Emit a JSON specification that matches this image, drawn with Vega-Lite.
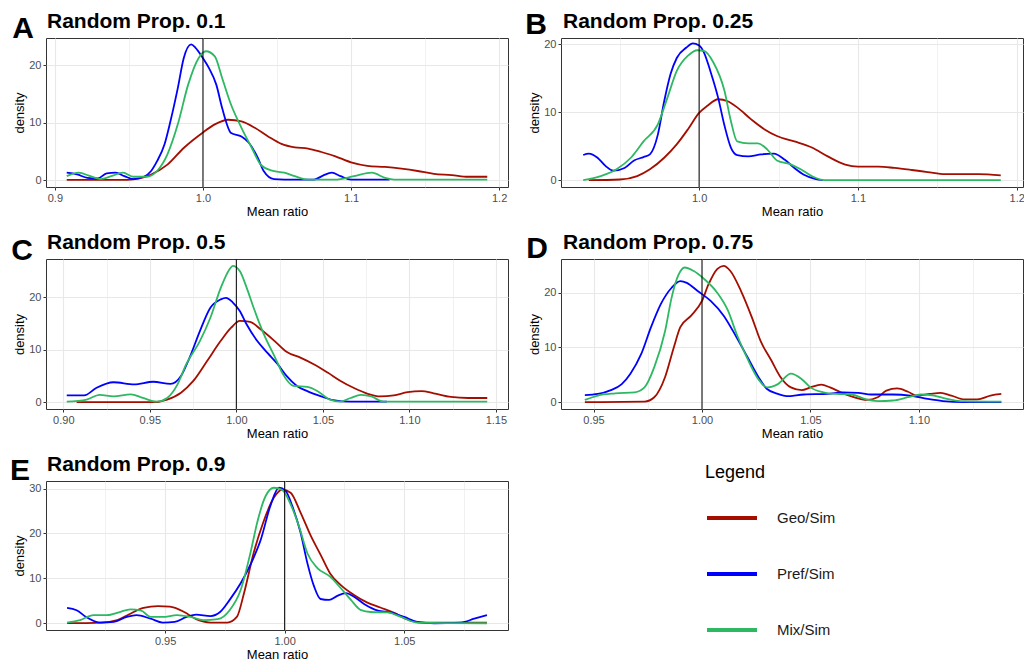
{
  "$schema": "https://vega.github.io/schema/vega-lite/v6.json",
  "padding": {"left": 9, "top": 9, "right": 0, "bottom": 0},
  "background": "white",
  "config": {
    "font": "Liberation Sans",
    "view": {"stroke": "#333333", "strokeWidth": 1},
    "axis": {
      "domain": false,
      "labelColor": "#4d4d4d",
      "labelFontSize": 11,
      "labelPadding": 2,
      "labelFlush": false,
      "labelOverlap": false,
      "titleFontSize": 13,
      "titleFontWeight": "normal",
      "titleColor": "#000000",
      "titlePadding": 2,
      "tickColor": "#333333",
      "tickSize": 3,
      "gridColor": "#e8e8e8"
    },
    "legend": {
      "titleFontSize": 18,
      "titleFontWeight": "normal",
      "titleColor": "#000000",
      "labelFontSize": 15,
      "labelColor": "#1a1a1a",
      "symbolType": "stroke",
      "symbolSize": 2500,
      "symbolStrokeWidth": 4,
      "labelOffset": 18,
      "rowPadding": 21,
      "titlePadding": 9
    }
  },
  "datasets": {
    "panels": [
      {"p": "A", "letter": "A", "title": "Random Prop. 0.1"},
      {"p": "B", "letter": "B", "title": "Random Prop. 0.25"},
      {"p": "C", "letter": "C", "title": "Random Prop. 0.5"},
      {"p": "D", "letter": "D", "title": "Random Prop. 0.75"},
      {"p": "E", "letter": "E", "title": "Random Prop. 0.9"}
    ],
    "curves": [
      {"p": "A", "s": "Geo/Sim", "x": 0.908, "y": 0.05},
      {"p": "A", "s": "Geo/Sim", "x": 0.949, "y": 0.05},
      {"p": "A", "s": "Geo/Sim", "x": 0.957, "y": 0.3},
      {"p": "A", "s": "Geo/Sim", "x": 0.965, "y": 1.0},
      {"p": "A", "s": "Geo/Sim", "x": 0.976, "y": 2.7},
      {"p": "A", "s": "Geo/Sim", "x": 0.987, "y": 5.6},
      {"p": "A", "s": "Geo/Sim", "x": 1.0, "y": 8.3},
      {"p": "A", "s": "Geo/Sim", "x": 1.008, "y": 9.7},
      {"p": "A", "s": "Geo/Sim", "x": 1.017, "y": 10.5},
      {"p": "A", "s": "Geo/Sim", "x": 1.026, "y": 10.2},
      {"p": "A", "s": "Geo/Sim", "x": 1.035, "y": 9.1},
      {"p": "A", "s": "Geo/Sim", "x": 1.044, "y": 7.6},
      {"p": "A", "s": "Geo/Sim", "x": 1.053, "y": 6.3},
      {"p": "A", "s": "Geo/Sim", "x": 1.062, "y": 5.7},
      {"p": "A", "s": "Geo/Sim", "x": 1.071, "y": 5.5},
      {"p": "A", "s": "Geo/Sim", "x": 1.08, "y": 4.9},
      {"p": "A", "s": "Geo/Sim", "x": 1.089, "y": 4.2},
      {"p": "A", "s": "Geo/Sim", "x": 1.1, "y": 3.1},
      {"p": "A", "s": "Geo/Sim", "x": 1.111, "y": 2.5},
      {"p": "A", "s": "Geo/Sim", "x": 1.123, "y": 2.3},
      {"p": "A", "s": "Geo/Sim", "x": 1.134, "y": 2.0},
      {"p": "A", "s": "Geo/Sim", "x": 1.145, "y": 1.6},
      {"p": "A", "s": "Geo/Sim", "x": 1.156, "y": 1.1},
      {"p": "A", "s": "Geo/Sim", "x": 1.168, "y": 0.9},
      {"p": "A", "s": "Geo/Sim", "x": 1.179, "y": 0.6},
      {"p": "A", "s": "Geo/Sim", "x": 1.192, "y": 0.6},

      {"p": "A", "s": "Pref/Sim", "x": 0.908, "y": 1.3},
      {"p": "A", "s": "Pref/Sim", "x": 0.915, "y": 1.0},
      {"p": "A", "s": "Pref/Sim", "x": 0.922, "y": 0.4},
      {"p": "A", "s": "Pref/Sim", "x": 0.929, "y": 0.3},
      {"p": "A", "s": "Pref/Sim", "x": 0.935, "y": 1.2},
      {"p": "A", "s": "Pref/Sim", "x": 0.941, "y": 1.3},
      {"p": "A", "s": "Pref/Sim", "x": 0.947, "y": 0.7},
      {"p": "A", "s": "Pref/Sim", "x": 0.953, "y": 0.2},
      {"p": "A", "s": "Pref/Sim", "x": 0.96, "y": 0.6},
      {"p": "A", "s": "Pref/Sim", "x": 0.965, "y": 1.6},
      {"p": "A", "s": "Pref/Sim", "x": 0.969, "y": 3.3},
      {"p": "A", "s": "Pref/Sim", "x": 0.974, "y": 6.2},
      {"p": "A", "s": "Pref/Sim", "x": 0.978, "y": 10.2},
      {"p": "A", "s": "Pref/Sim", "x": 0.983, "y": 16.0},
      {"p": "A", "s": "Pref/Sim", "x": 0.987, "y": 21.2},
      {"p": "A", "s": "Pref/Sim", "x": 0.992, "y": 23.6},
      {"p": "A", "s": "Pref/Sim", "x": 0.995, "y": 23.0},
      {"p": "A", "s": "Pref/Sim", "x": 1.0, "y": 21.2},
      {"p": "A", "s": "Pref/Sim", "x": 1.004, "y": 19.5},
      {"p": "A", "s": "Pref/Sim", "x": 1.009, "y": 16.6},
      {"p": "A", "s": "Pref/Sim", "x": 1.013, "y": 12.5},
      {"p": "A", "s": "Pref/Sim", "x": 1.019, "y": 8.2},
      {"p": "A", "s": "Pref/Sim", "x": 1.026, "y": 7.6},
      {"p": "A", "s": "Pref/Sim", "x": 1.031, "y": 6.5},
      {"p": "A", "s": "Pref/Sim", "x": 1.037, "y": 3.9},
      {"p": "A", "s": "Pref/Sim", "x": 1.041, "y": 1.6},
      {"p": "A", "s": "Pref/Sim", "x": 1.048, "y": 0.2},
      {"p": "A", "s": "Pref/Sim", "x": 1.062, "y": 0.1},
      {"p": "A", "s": "Pref/Sim", "x": 1.075, "y": 0.1},
      {"p": "A", "s": "Pref/Sim", "x": 1.081, "y": 0.8},
      {"p": "A", "s": "Pref/Sim", "x": 1.087, "y": 1.3},
      {"p": "A", "s": "Pref/Sim", "x": 1.093, "y": 0.7},
      {"p": "A", "s": "Pref/Sim", "x": 1.1, "y": 0.1},
      {"p": "A", "s": "Pref/Sim", "x": 1.126, "y": 0.1},

      {"p": "A", "s": "Mix/Sim", "x": 0.908, "y": 0.7},
      {"p": "A", "s": "Mix/Sim", "x": 0.916, "y": 1.3},
      {"p": "A", "s": "Mix/Sim", "x": 0.924, "y": 0.7},
      {"p": "A", "s": "Mix/Sim", "x": 0.931, "y": 0.2},
      {"p": "A", "s": "Mix/Sim", "x": 0.938, "y": 0.7},
      {"p": "A", "s": "Mix/Sim", "x": 0.946, "y": 1.3},
      {"p": "A", "s": "Mix/Sim", "x": 0.953, "y": 0.6},
      {"p": "A", "s": "Mix/Sim", "x": 0.962, "y": 0.6},
      {"p": "A", "s": "Mix/Sim", "x": 0.969, "y": 1.6},
      {"p": "A", "s": "Mix/Sim", "x": 0.976, "y": 4.5},
      {"p": "A", "s": "Mix/Sim", "x": 0.983, "y": 9.7},
      {"p": "A", "s": "Mix/Sim", "x": 0.99, "y": 16.6},
      {"p": "A", "s": "Mix/Sim", "x": 0.997, "y": 21.2},
      {"p": "A", "s": "Mix/Sim", "x": 1.002, "y": 22.4},
      {"p": "A", "s": "Mix/Sim", "x": 1.008, "y": 21.5},
      {"p": "A", "s": "Mix/Sim", "x": 1.013, "y": 17.7},
      {"p": "A", "s": "Mix/Sim", "x": 1.019, "y": 13.1},
      {"p": "A", "s": "Mix/Sim", "x": 1.026, "y": 9.1},
      {"p": "A", "s": "Mix/Sim", "x": 1.033, "y": 5.6},
      {"p": "A", "s": "Mix/Sim", "x": 1.039, "y": 2.7},
      {"p": "A", "s": "Mix/Sim", "x": 1.046, "y": 1.7},
      {"p": "A", "s": "Mix/Sim", "x": 1.055, "y": 1.3},
      {"p": "A", "s": "Mix/Sim", "x": 1.062, "y": 0.7},
      {"p": "A", "s": "Mix/Sim", "x": 1.071, "y": 0.1},
      {"p": "A", "s": "Mix/Sim", "x": 1.089, "y": 0.1},
      {"p": "A", "s": "Mix/Sim", "x": 1.102, "y": 0.7},
      {"p": "A", "s": "Mix/Sim", "x": 1.114, "y": 1.3},
      {"p": "A", "s": "Mix/Sim", "x": 1.123, "y": 0.4},
      {"p": "A", "s": "Mix/Sim", "x": 1.129, "y": 0.1},
      {"p": "A", "s": "Mix/Sim", "x": 1.192, "y": 0.1},

      {"p": "B", "s": "Geo/Sim", "x": 0.9305, "y": 0.0},
      {"p": "B", "s": "Geo/Sim", "x": 0.95, "y": 0.1},
      {"p": "B", "s": "Geo/Sim", "x": 0.961, "y": 0.6},
      {"p": "B", "s": "Geo/Sim", "x": 0.969, "y": 1.6},
      {"p": "B", "s": "Geo/Sim", "x": 0.978, "y": 3.3},
      {"p": "B", "s": "Geo/Sim", "x": 0.986, "y": 5.3},
      {"p": "B", "s": "Geo/Sim", "x": 0.993, "y": 7.5},
      {"p": "B", "s": "Geo/Sim", "x": 1.0, "y": 9.9},
      {"p": "B", "s": "Geo/Sim", "x": 1.005, "y": 10.9},
      {"p": "B", "s": "Geo/Sim", "x": 1.012, "y": 11.9},
      {"p": "B", "s": "Geo/Sim", "x": 1.018, "y": 11.6},
      {"p": "B", "s": "Geo/Sim", "x": 1.024, "y": 10.7},
      {"p": "B", "s": "Geo/Sim", "x": 1.033, "y": 8.9},
      {"p": "B", "s": "Geo/Sim", "x": 1.041, "y": 7.5},
      {"p": "B", "s": "Geo/Sim", "x": 1.049, "y": 6.5},
      {"p": "B", "s": "Geo/Sim", "x": 1.06, "y": 5.7},
      {"p": "B", "s": "Geo/Sim", "x": 1.071, "y": 4.8},
      {"p": "B", "s": "Geo/Sim", "x": 1.081, "y": 3.5},
      {"p": "B", "s": "Geo/Sim", "x": 1.092, "y": 2.3},
      {"p": "B", "s": "Geo/Sim", "x": 1.1, "y": 2.0},
      {"p": "B", "s": "Geo/Sim", "x": 1.113, "y": 2.0},
      {"p": "B", "s": "Geo/Sim", "x": 1.123, "y": 1.8},
      {"p": "B", "s": "Geo/Sim", "x": 1.134, "y": 1.5},
      {"p": "B", "s": "Geo/Sim", "x": 1.144, "y": 1.2},
      {"p": "B", "s": "Geo/Sim", "x": 1.155, "y": 0.9},
      {"p": "B", "s": "Geo/Sim", "x": 1.176, "y": 0.9},
      {"p": "B", "s": "Geo/Sim", "x": 1.19, "y": 0.7},

      {"p": "B", "s": "Pref/Sim", "x": 0.927, "y": 3.7},
      {"p": "B", "s": "Pref/Sim", "x": 0.9305, "y": 3.9},
      {"p": "B", "s": "Pref/Sim", "x": 0.936, "y": 3.3},
      {"p": "B", "s": "Pref/Sim", "x": 0.941, "y": 2.1},
      {"p": "B", "s": "Pref/Sim", "x": 0.946, "y": 1.4},
      {"p": "B", "s": "Pref/Sim", "x": 0.953, "y": 1.8},
      {"p": "B", "s": "Pref/Sim", "x": 0.959, "y": 2.9},
      {"p": "B", "s": "Pref/Sim", "x": 0.965, "y": 3.4},
      {"p": "B", "s": "Pref/Sim", "x": 0.969, "y": 3.8},
      {"p": "B", "s": "Pref/Sim", "x": 0.974, "y": 6.7},
      {"p": "B", "s": "Pref/Sim", "x": 0.978, "y": 11.6},
      {"p": "B", "s": "Pref/Sim", "x": 0.982, "y": 15.6},
      {"p": "B", "s": "Pref/Sim", "x": 0.986, "y": 18.0},
      {"p": "B", "s": "Pref/Sim", "x": 0.992, "y": 19.5},
      {"p": "B", "s": "Pref/Sim", "x": 0.996, "y": 20.1},
      {"p": "B", "s": "Pref/Sim", "x": 1.0, "y": 19.8},
      {"p": "B", "s": "Pref/Sim", "x": 1.003, "y": 18.8},
      {"p": "B", "s": "Pref/Sim", "x": 1.007, "y": 16.1},
      {"p": "B", "s": "Pref/Sim", "x": 1.012, "y": 12.1},
      {"p": "B", "s": "Pref/Sim", "x": 1.016, "y": 8.0},
      {"p": "B", "s": "Pref/Sim", "x": 1.02, "y": 4.8},
      {"p": "B", "s": "Pref/Sim", "x": 1.024, "y": 3.7},
      {"p": "B", "s": "Pref/Sim", "x": 1.031, "y": 3.5},
      {"p": "B", "s": "Pref/Sim", "x": 1.039, "y": 3.8},
      {"p": "B", "s": "Pref/Sim", "x": 1.047, "y": 3.9},
      {"p": "B", "s": "Pref/Sim", "x": 1.054, "y": 3.0},
      {"p": "B", "s": "Pref/Sim", "x": 1.06, "y": 1.8},
      {"p": "B", "s": "Pref/Sim", "x": 1.066, "y": 0.8},
      {"p": "B", "s": "Pref/Sim", "x": 1.073, "y": 0.2},
      {"p": "B", "s": "Pref/Sim", "x": 1.078, "y": 0.0},

      {"p": "B", "s": "Mix/Sim", "x": 0.927, "y": 0.0},
      {"p": "B", "s": "Mix/Sim", "x": 0.938, "y": 0.6},
      {"p": "B", "s": "Mix/Sim", "x": 0.948, "y": 1.6},
      {"p": "B", "s": "Mix/Sim", "x": 0.957, "y": 3.3},
      {"p": "B", "s": "Mix/Sim", "x": 0.965, "y": 5.7},
      {"p": "B", "s": "Mix/Sim", "x": 0.974, "y": 8.2},
      {"p": "B", "s": "Mix/Sim", "x": 0.98, "y": 12.1},
      {"p": "B", "s": "Mix/Sim", "x": 0.986, "y": 16.1},
      {"p": "B", "s": "Mix/Sim", "x": 0.993, "y": 18.3},
      {"p": "B", "s": "Mix/Sim", "x": 0.999, "y": 19.1},
      {"p": "B", "s": "Mix/Sim", "x": 1.003, "y": 19.0},
      {"p": "B", "s": "Mix/Sim", "x": 1.009, "y": 17.3},
      {"p": "B", "s": "Mix/Sim", "x": 1.016, "y": 13.1},
      {"p": "B", "s": "Mix/Sim", "x": 1.02, "y": 8.7},
      {"p": "B", "s": "Mix/Sim", "x": 1.024, "y": 5.7},
      {"p": "B", "s": "Mix/Sim", "x": 1.031, "y": 5.4},
      {"p": "B", "s": "Mix/Sim", "x": 1.037, "y": 5.4},
      {"p": "B", "s": "Mix/Sim", "x": 1.043, "y": 4.5},
      {"p": "B", "s": "Mix/Sim", "x": 1.049, "y": 2.9},
      {"p": "B", "s": "Mix/Sim", "x": 1.058, "y": 2.3},
      {"p": "B", "s": "Mix/Sim", "x": 1.064, "y": 1.6},
      {"p": "B", "s": "Mix/Sim", "x": 1.071, "y": 0.6},
      {"p": "B", "s": "Mix/Sim", "x": 1.079, "y": 0.0},
      {"p": "B", "s": "Mix/Sim", "x": 1.19, "y": 0.0},

      {"p": "C", "s": "Geo/Sim", "x": 0.9077, "y": 0.0},
      {"p": "C", "s": "Geo/Sim", "x": 0.952, "y": 0.0},
      {"p": "C", "s": "Geo/Sim", "x": 0.96, "y": 0.5},
      {"p": "C", "s": "Geo/Sim", "x": 0.968, "y": 1.8},
      {"p": "C", "s": "Geo/Sim", "x": 0.975, "y": 4.0},
      {"p": "C", "s": "Geo/Sim", "x": 0.983, "y": 7.8},
      {"p": "C", "s": "Geo/Sim", "x": 0.991, "y": 11.7},
      {"p": "C", "s": "Geo/Sim", "x": 0.997, "y": 14.2},
      {"p": "C", "s": "Geo/Sim", "x": 1.002, "y": 15.5},
      {"p": "C", "s": "Geo/Sim", "x": 1.008, "y": 15.3},
      {"p": "C", "s": "Geo/Sim", "x": 1.014, "y": 13.9},
      {"p": "C", "s": "Geo/Sim", "x": 1.022, "y": 11.7},
      {"p": "C", "s": "Geo/Sim", "x": 1.029, "y": 9.6},
      {"p": "C", "s": "Geo/Sim", "x": 1.037, "y": 8.5},
      {"p": "C", "s": "Geo/Sim", "x": 1.045, "y": 7.2},
      {"p": "C", "s": "Geo/Sim", "x": 1.053, "y": 5.6},
      {"p": "C", "s": "Geo/Sim", "x": 1.06, "y": 4.1},
      {"p": "C", "s": "Geo/Sim", "x": 1.068, "y": 2.7},
      {"p": "C", "s": "Geo/Sim", "x": 1.076, "y": 1.6},
      {"p": "C", "s": "Geo/Sim", "x": 1.083, "y": 1.1},
      {"p": "C", "s": "Geo/Sim", "x": 1.091, "y": 1.3},
      {"p": "C", "s": "Geo/Sim", "x": 1.099, "y": 1.9},
      {"p": "C", "s": "Geo/Sim", "x": 1.107, "y": 2.1},
      {"p": "C", "s": "Geo/Sim", "x": 1.114, "y": 1.7},
      {"p": "C", "s": "Geo/Sim", "x": 1.124, "y": 1.0},
      {"p": "C", "s": "Geo/Sim", "x": 1.134, "y": 0.8},
      {"p": "C", "s": "Geo/Sim", "x": 1.145, "y": 0.8},

      {"p": "C", "s": "Pref/Sim", "x": 0.902, "y": 1.3},
      {"p": "C", "s": "Pref/Sim", "x": 0.912, "y": 1.3},
      {"p": "C", "s": "Pref/Sim", "x": 0.919, "y": 2.7},
      {"p": "C", "s": "Pref/Sim", "x": 0.929, "y": 3.8},
      {"p": "C", "s": "Pref/Sim", "x": 0.941, "y": 3.4},
      {"p": "C", "s": "Pref/Sim", "x": 0.952, "y": 3.9},
      {"p": "C", "s": "Pref/Sim", "x": 0.962, "y": 3.5},
      {"p": "C", "s": "Pref/Sim", "x": 0.968, "y": 5.0},
      {"p": "C", "s": "Pref/Sim", "x": 0.973, "y": 8.5},
      {"p": "C", "s": "Pref/Sim", "x": 0.979, "y": 13.6},
      {"p": "C", "s": "Pref/Sim", "x": 0.985, "y": 18.0},
      {"p": "C", "s": "Pref/Sim", "x": 0.991, "y": 19.6},
      {"p": "C", "s": "Pref/Sim", "x": 0.994, "y": 19.9},
      {"p": "C", "s": "Pref/Sim", "x": 0.998, "y": 19.0},
      {"p": "C", "s": "Pref/Sim", "x": 1.002, "y": 17.4},
      {"p": "C", "s": "Pref/Sim", "x": 1.006, "y": 14.8},
      {"p": "C", "s": "Pref/Sim", "x": 1.012, "y": 11.7},
      {"p": "C", "s": "Pref/Sim", "x": 1.018, "y": 9.4},
      {"p": "C", "s": "Pref/Sim", "x": 1.024, "y": 7.2},
      {"p": "C", "s": "Pref/Sim", "x": 1.029, "y": 5.0},
      {"p": "C", "s": "Pref/Sim", "x": 1.035, "y": 3.1},
      {"p": "C", "s": "Pref/Sim", "x": 1.041, "y": 2.1},
      {"p": "C", "s": "Pref/Sim", "x": 1.049, "y": 1.1},
      {"p": "C", "s": "Pref/Sim", "x": 1.056, "y": 0.4},
      {"p": "C", "s": "Pref/Sim", "x": 1.066, "y": 0.1},
      {"p": "C", "s": "Pref/Sim", "x": 1.087, "y": 0.1},

      {"p": "C", "s": "Mix/Sim", "x": 0.902, "y": 0.1},
      {"p": "C", "s": "Mix/Sim", "x": 0.9135, "y": 0.5},
      {"p": "C", "s": "Mix/Sim", "x": 0.921, "y": 1.4},
      {"p": "C", "s": "Mix/Sim", "x": 0.929, "y": 1.1},
      {"p": "C", "s": "Mix/Sim", "x": 0.939, "y": 1.5},
      {"p": "C", "s": "Mix/Sim", "x": 0.946, "y": 0.8},
      {"p": "C", "s": "Mix/Sim", "x": 0.954, "y": 0.1},
      {"p": "C", "s": "Mix/Sim", "x": 0.96, "y": 0.8},
      {"p": "C", "s": "Mix/Sim", "x": 0.966, "y": 3.4},
      {"p": "C", "s": "Mix/Sim", "x": 0.971, "y": 7.2},
      {"p": "C", "s": "Mix/Sim", "x": 0.979, "y": 11.7},
      {"p": "C", "s": "Mix/Sim", "x": 0.985, "y": 16.1},
      {"p": "C", "s": "Mix/Sim", "x": 0.991, "y": 21.8},
      {"p": "C", "s": "Mix/Sim", "x": 0.996, "y": 25.3},
      {"p": "C", "s": "Mix/Sim", "x": 0.998, "y": 26.0},
      {"p": "C", "s": "Mix/Sim", "x": 1.002, "y": 25.0},
      {"p": "C", "s": "Mix/Sim", "x": 1.006, "y": 21.8},
      {"p": "C", "s": "Mix/Sim", "x": 1.01, "y": 18.0},
      {"p": "C", "s": "Mix/Sim", "x": 1.016, "y": 12.9},
      {"p": "C", "s": "Mix/Sim", "x": 1.022, "y": 8.8},
      {"p": "C", "s": "Mix/Sim", "x": 1.027, "y": 5.3},
      {"p": "C", "s": "Mix/Sim", "x": 1.033, "y": 3.1},
      {"p": "C", "s": "Mix/Sim", "x": 1.041, "y": 2.9},
      {"p": "C", "s": "Mix/Sim", "x": 1.047, "y": 2.1},
      {"p": "C", "s": "Mix/Sim", "x": 1.054, "y": 0.5},
      {"p": "C", "s": "Mix/Sim", "x": 1.06, "y": 0.1},
      {"p": "C", "s": "Mix/Sim", "x": 1.066, "y": 0.8},
      {"p": "C", "s": "Mix/Sim", "x": 1.072, "y": 1.4},
      {"p": "C", "s": "Mix/Sim", "x": 1.078, "y": 1.1},
      {"p": "C", "s": "Mix/Sim", "x": 1.085, "y": 0.1},
      {"p": "C", "s": "Mix/Sim", "x": 1.145, "y": 0.1},

      {"p": "D", "s": "Geo/Sim", "x": 0.946, "y": 0.0},
      {"p": "D", "s": "Geo/Sim", "x": 0.9735, "y": 0.1},
      {"p": "D", "s": "Geo/Sim", "x": 0.978, "y": 0.9},
      {"p": "D", "s": "Geo/Sim", "x": 0.983, "y": 4.6},
      {"p": "D", "s": "Geo/Sim", "x": 0.987, "y": 10.0},
      {"p": "D", "s": "Geo/Sim", "x": 0.99, "y": 13.7},
      {"p": "D", "s": "Geo/Sim", "x": 0.995, "y": 15.8},
      {"p": "D", "s": "Geo/Sim", "x": 1.0, "y": 18.5},
      {"p": "D", "s": "Geo/Sim", "x": 1.003, "y": 21.5},
      {"p": "D", "s": "Geo/Sim", "x": 1.007, "y": 24.3},
      {"p": "D", "s": "Geo/Sim", "x": 1.01, "y": 24.9},
      {"p": "D", "s": "Geo/Sim", "x": 1.013, "y": 24.0},
      {"p": "D", "s": "Geo/Sim", "x": 1.018, "y": 20.3},
      {"p": "D", "s": "Geo/Sim", "x": 1.023, "y": 15.5},
      {"p": "D", "s": "Geo/Sim", "x": 1.027, "y": 11.2},
      {"p": "D", "s": "Geo/Sim", "x": 1.032, "y": 7.6},
      {"p": "D", "s": "Geo/Sim", "x": 1.036, "y": 4.7},
      {"p": "D", "s": "Geo/Sim", "x": 1.041, "y": 2.7},
      {"p": "D", "s": "Geo/Sim", "x": 1.046, "y": 2.2},
      {"p": "D", "s": "Geo/Sim", "x": 1.05, "y": 2.7},
      {"p": "D", "s": "Geo/Sim", "x": 1.055, "y": 3.2},
      {"p": "D", "s": "Geo/Sim", "x": 1.059, "y": 2.7},
      {"p": "D", "s": "Geo/Sim", "x": 1.064, "y": 1.8},
      {"p": "D", "s": "Geo/Sim", "x": 1.07, "y": 0.9},
      {"p": "D", "s": "Geo/Sim", "x": 1.076, "y": 0.4},
      {"p": "D", "s": "Geo/Sim", "x": 1.081, "y": 0.9},
      {"p": "D", "s": "Geo/Sim", "x": 1.085, "y": 2.1},
      {"p": "D", "s": "Geo/Sim", "x": 1.09, "y": 2.5},
      {"p": "D", "s": "Geo/Sim", "x": 1.095, "y": 1.9},
      {"p": "D", "s": "Geo/Sim", "x": 1.099, "y": 1.2},
      {"p": "D", "s": "Geo/Sim", "x": 1.105, "y": 1.5},
      {"p": "D", "s": "Geo/Sim", "x": 1.11, "y": 1.7},
      {"p": "D", "s": "Geo/Sim", "x": 1.115, "y": 1.2},
      {"p": "D", "s": "Geo/Sim", "x": 1.121, "y": 0.5},
      {"p": "D", "s": "Geo/Sim", "x": 1.127, "y": 0.5},
      {"p": "D", "s": "Geo/Sim", "x": 1.133, "y": 1.2},
      {"p": "D", "s": "Geo/Sim", "x": 1.138, "y": 1.5},

      {"p": "D", "s": "Pref/Sim", "x": 0.946, "y": 1.3},
      {"p": "D", "s": "Pref/Sim", "x": 0.952, "y": 1.5},
      {"p": "D", "s": "Pref/Sim", "x": 0.958, "y": 2.2},
      {"p": "D", "s": "Pref/Sim", "x": 0.963, "y": 3.3},
      {"p": "D", "s": "Pref/Sim", "x": 0.967, "y": 5.2},
      {"p": "D", "s": "Pref/Sim", "x": 0.972, "y": 8.8},
      {"p": "D", "s": "Pref/Sim", "x": 0.9765, "y": 13.7},
      {"p": "D", "s": "Pref/Sim", "x": 0.981, "y": 17.9},
      {"p": "D", "s": "Pref/Sim", "x": 0.986, "y": 20.9},
      {"p": "D", "s": "Pref/Sim", "x": 0.99, "y": 22.1},
      {"p": "D", "s": "Pref/Sim", "x": 0.993, "y": 21.8},
      {"p": "D", "s": "Pref/Sim", "x": 0.998, "y": 20.3},
      {"p": "D", "s": "Pref/Sim", "x": 1.004, "y": 18.5},
      {"p": "D", "s": "Pref/Sim", "x": 1.01, "y": 15.8},
      {"p": "D", "s": "Pref/Sim", "x": 1.016, "y": 11.8},
      {"p": "D", "s": "Pref/Sim", "x": 1.021, "y": 8.2},
      {"p": "D", "s": "Pref/Sim", "x": 1.026, "y": 4.6},
      {"p": "D", "s": "Pref/Sim", "x": 1.03, "y": 2.4},
      {"p": "D", "s": "Pref/Sim", "x": 1.035, "y": 1.5},
      {"p": "D", "s": "Pref/Sim", "x": 1.039, "y": 1.1},
      {"p": "D", "s": "Pref/Sim", "x": 1.047, "y": 1.4},
      {"p": "D", "s": "Pref/Sim", "x": 1.058, "y": 1.5},
      {"p": "D", "s": "Pref/Sim", "x": 1.065, "y": 1.8},
      {"p": "D", "s": "Pref/Sim", "x": 1.072, "y": 1.7},
      {"p": "D", "s": "Pref/Sim", "x": 1.078, "y": 1.4},
      {"p": "D", "s": "Pref/Sim", "x": 1.088, "y": 1.4},
      {"p": "D", "s": "Pref/Sim", "x": 1.096, "y": 1.2},
      {"p": "D", "s": "Pref/Sim", "x": 1.104, "y": 0.6},
      {"p": "D", "s": "Pref/Sim", "x": 1.111, "y": 0.2},
      {"p": "D", "s": "Pref/Sim", "x": 1.121, "y": 0.0},
      {"p": "D", "s": "Pref/Sim", "x": 1.138, "y": 0.0},

      {"p": "D", "s": "Mix/Sim", "x": 0.946, "y": 0.4},
      {"p": "D", "s": "Mix/Sim", "x": 0.952, "y": 1.2},
      {"p": "D", "s": "Mix/Sim", "x": 0.96, "y": 1.6},
      {"p": "D", "s": "Mix/Sim", "x": 0.969, "y": 1.8},
      {"p": "D", "s": "Mix/Sim", "x": 0.9735, "y": 2.7},
      {"p": "D", "s": "Mix/Sim", "x": 0.978, "y": 6.4},
      {"p": "D", "s": "Mix/Sim", "x": 0.983, "y": 13.0},
      {"p": "D", "s": "Mix/Sim", "x": 0.986, "y": 19.1},
      {"p": "D", "s": "Mix/Sim", "x": 0.989, "y": 23.1},
      {"p": "D", "s": "Mix/Sim", "x": 0.992, "y": 24.6},
      {"p": "D", "s": "Mix/Sim", "x": 0.996, "y": 24.0},
      {"p": "D", "s": "Mix/Sim", "x": 1.001, "y": 22.5},
      {"p": "D", "s": "Mix/Sim", "x": 1.007, "y": 20.0},
      {"p": "D", "s": "Mix/Sim", "x": 1.012, "y": 16.7},
      {"p": "D", "s": "Mix/Sim", "x": 1.016, "y": 12.4},
      {"p": "D", "s": "Mix/Sim", "x": 1.021, "y": 7.9},
      {"p": "D", "s": "Mix/Sim", "x": 1.026, "y": 4.2},
      {"p": "D", "s": "Mix/Sim", "x": 1.03, "y": 2.7},
      {"p": "D", "s": "Mix/Sim", "x": 1.035, "y": 3.3},
      {"p": "D", "s": "Mix/Sim", "x": 1.041, "y": 5.2},
      {"p": "D", "s": "Mix/Sim", "x": 1.046, "y": 4.2},
      {"p": "D", "s": "Mix/Sim", "x": 1.05, "y": 2.7},
      {"p": "D", "s": "Mix/Sim", "x": 1.056, "y": 1.8},
      {"p": "D", "s": "Mix/Sim", "x": 1.062, "y": 1.5},
      {"p": "D", "s": "Mix/Sim", "x": 1.069, "y": 1.4},
      {"p": "D", "s": "Mix/Sim", "x": 1.075, "y": 0.6},
      {"p": "D", "s": "Mix/Sim", "x": 1.081, "y": 0.2},
      {"p": "D", "s": "Mix/Sim", "x": 1.088, "y": 0.3},
      {"p": "D", "s": "Mix/Sim", "x": 1.095, "y": 0.9},
      {"p": "D", "s": "Mix/Sim", "x": 1.101, "y": 1.4},
      {"p": "D", "s": "Mix/Sim", "x": 1.107, "y": 1.2},
      {"p": "D", "s": "Mix/Sim", "x": 1.113, "y": 0.6},
      {"p": "D", "s": "Mix/Sim", "x": 1.119, "y": 0.2},
      {"p": "D", "s": "Mix/Sim", "x": 1.138, "y": 0.1},

      {"p": "E", "s": "Geo/Sim", "x": 0.909, "y": 0.0},
      {"p": "E", "s": "Geo/Sim", "x": 0.923, "y": 0.15},
      {"p": "E", "s": "Geo/Sim", "x": 0.93, "y": 0.7},
      {"p": "E", "s": "Geo/Sim", "x": 0.935, "y": 2.0},
      {"p": "E", "s": "Geo/Sim", "x": 0.941, "y": 3.4},
      {"p": "E", "s": "Geo/Sim", "x": 0.947, "y": 3.8},
      {"p": "E", "s": "Geo/Sim", "x": 0.952, "y": 3.7},
      {"p": "E", "s": "Geo/Sim", "x": 0.958, "y": 2.5},
      {"p": "E", "s": "Geo/Sim", "x": 0.963, "y": 0.9},
      {"p": "E", "s": "Geo/Sim", "x": 0.969, "y": 0.15},
      {"p": "E", "s": "Geo/Sim", "x": 0.976, "y": 0.15},
      {"p": "E", "s": "Geo/Sim", "x": 0.98, "y": 1.4},
      {"p": "E", "s": "Geo/Sim", "x": 0.983, "y": 6.7},
      {"p": "E", "s": "Geo/Sim", "x": 0.987, "y": 15.6},
      {"p": "E", "s": "Geo/Sim", "x": 0.991, "y": 22.4},
      {"p": "E", "s": "Geo/Sim", "x": 0.9955, "y": 28.0},
      {"p": "E", "s": "Geo/Sim", "x": 0.999, "y": 29.8},
      {"p": "E", "s": "Geo/Sim", "x": 1.0025, "y": 29.1},
      {"p": "E", "s": "Geo/Sim", "x": 1.0067, "y": 24.6},
      {"p": "E", "s": "Geo/Sim", "x": 1.011, "y": 19.4},
      {"p": "E", "s": "Geo/Sim", "x": 1.015, "y": 15.3},
      {"p": "E", "s": "Geo/Sim", "x": 1.019, "y": 11.1},
      {"p": "E", "s": "Geo/Sim", "x": 1.0235, "y": 8.5},
      {"p": "E", "s": "Geo/Sim", "x": 1.029, "y": 6.3},
      {"p": "E", "s": "Geo/Sim", "x": 1.0346, "y": 4.6},
      {"p": "E", "s": "Geo/Sim", "x": 1.04, "y": 3.5},
      {"p": "E", "s": "Geo/Sim", "x": 1.0458, "y": 2.3},
      {"p": "E", "s": "Geo/Sim", "x": 1.051, "y": 0.9},
      {"p": "E", "s": "Geo/Sim", "x": 1.057, "y": 0.15},
      {"p": "E", "s": "Geo/Sim", "x": 1.0846, "y": 0.15},

      {"p": "E", "s": "Pref/Sim", "x": 0.909, "y": 3.4},
      {"p": "E", "s": "Pref/Sim", "x": 0.913, "y": 2.9},
      {"p": "E", "s": "Pref/Sim", "x": 0.917, "y": 1.4},
      {"p": "E", "s": "Pref/Sim", "x": 0.923, "y": 0.15},
      {"p": "E", "s": "Pref/Sim", "x": 0.9285, "y": 0.3},
      {"p": "E", "s": "Pref/Sim", "x": 0.934, "y": 1.4},
      {"p": "E", "s": "Pref/Sim", "x": 0.938, "y": 1.8},
      {"p": "E", "s": "Pref/Sim", "x": 0.944, "y": 1.0},
      {"p": "E", "s": "Pref/Sim", "x": 0.949, "y": 0.15},
      {"p": "E", "s": "Pref/Sim", "x": 0.954, "y": 0.3},
      {"p": "E", "s": "Pref/Sim", "x": 0.959, "y": 1.4},
      {"p": "E", "s": "Pref/Sim", "x": 0.963, "y": 1.9},
      {"p": "E", "s": "Pref/Sim", "x": 0.969, "y": 1.6},
      {"p": "E", "s": "Pref/Sim", "x": 0.973, "y": 2.5},
      {"p": "E", "s": "Pref/Sim", "x": 0.977, "y": 5.2},
      {"p": "E", "s": "Pref/Sim", "x": 0.9816, "y": 8.9},
      {"p": "E", "s": "Pref/Sim", "x": 0.986, "y": 13.4},
      {"p": "E", "s": "Pref/Sim", "x": 0.99, "y": 18.6},
      {"p": "E", "s": "Pref/Sim", "x": 0.994, "y": 26.1},
      {"p": "E", "s": "Pref/Sim", "x": 0.9976, "y": 30.2},
      {"p": "E", "s": "Pref/Sim", "x": 1.0004, "y": 29.5},
      {"p": "E", "s": "Pref/Sim", "x": 1.0032, "y": 26.1},
      {"p": "E", "s": "Pref/Sim", "x": 1.0067, "y": 20.1},
      {"p": "E", "s": "Pref/Sim", "x": 1.0095, "y": 13.4},
      {"p": "E", "s": "Pref/Sim", "x": 1.0123, "y": 8.2},
      {"p": "E", "s": "Pref/Sim", "x": 1.015, "y": 5.4},
      {"p": "E", "s": "Pref/Sim", "x": 1.0186, "y": 5.2},
      {"p": "E", "s": "Pref/Sim", "x": 1.022, "y": 6.1},
      {"p": "E", "s": "Pref/Sim", "x": 1.0256, "y": 6.7},
      {"p": "E", "s": "Pref/Sim", "x": 1.029, "y": 5.9},
      {"p": "E", "s": "Pref/Sim", "x": 1.0332, "y": 4.3},
      {"p": "E", "s": "Pref/Sim", "x": 1.039, "y": 2.8},
      {"p": "E", "s": "Pref/Sim", "x": 1.044, "y": 2.4},
      {"p": "E", "s": "Pref/Sim", "x": 1.05, "y": 1.4},
      {"p": "E", "s": "Pref/Sim", "x": 1.0556, "y": 0.3},
      {"p": "E", "s": "Pref/Sim", "x": 1.0626, "y": 0.0},
      {"p": "E", "s": "Pref/Sim", "x": 1.0737, "y": 0.15},
      {"p": "E", "s": "Pref/Sim", "x": 1.0793, "y": 1.0},
      {"p": "E", "s": "Pref/Sim", "x": 1.0846, "y": 1.8},

      {"p": "E", "s": "Mix/Sim", "x": 0.909, "y": 0.15},
      {"p": "E", "s": "Mix/Sim", "x": 0.9145, "y": 0.7},
      {"p": "E", "s": "Mix/Sim", "x": 0.92, "y": 1.8},
      {"p": "E", "s": "Mix/Sim", "x": 0.9257, "y": 1.8},
      {"p": "E", "s": "Mix/Sim", "x": 0.931, "y": 2.5},
      {"p": "E", "s": "Mix/Sim", "x": 0.9355, "y": 3.1},
      {"p": "E", "s": "Mix/Sim", "x": 0.94, "y": 2.8},
      {"p": "E", "s": "Mix/Sim", "x": 0.944, "y": 1.4},
      {"p": "E", "s": "Mix/Sim", "x": 0.949, "y": 1.4},
      {"p": "E", "s": "Mix/Sim", "x": 0.955, "y": 1.8},
      {"p": "E", "s": "Mix/Sim", "x": 0.9606, "y": 1.4},
      {"p": "E", "s": "Mix/Sim", "x": 0.966, "y": 0.7},
      {"p": "E", "s": "Mix/Sim", "x": 0.972, "y": 0.9},
      {"p": "E", "s": "Mix/Sim", "x": 0.977, "y": 2.9},
      {"p": "E", "s": "Mix/Sim", "x": 0.9816, "y": 7.4},
      {"p": "E", "s": "Mix/Sim", "x": 0.986, "y": 16.4},
      {"p": "E", "s": "Mix/Sim", "x": 0.9885, "y": 22.4},
      {"p": "E", "s": "Mix/Sim", "x": 0.992, "y": 28.3},
      {"p": "E", "s": "Mix/Sim", "x": 0.9955, "y": 30.2},
      {"p": "E", "s": "Mix/Sim", "x": 0.999, "y": 29.7},
      {"p": "E", "s": "Mix/Sim", "x": 1.0025, "y": 26.5},
      {"p": "E", "s": "Mix/Sim", "x": 1.006, "y": 21.6},
      {"p": "E", "s": "Mix/Sim", "x": 1.0095, "y": 15.6},
      {"p": "E", "s": "Mix/Sim", "x": 1.0137, "y": 12.3},
      {"p": "E", "s": "Mix/Sim", "x": 1.019, "y": 10.4},
      {"p": "E", "s": "Mix/Sim", "x": 1.0235, "y": 7.8},
      {"p": "E", "s": "Mix/Sim", "x": 1.0277, "y": 5.2},
      {"p": "E", "s": "Mix/Sim", "x": 1.032, "y": 2.9},
      {"p": "E", "s": "Mix/Sim", "x": 1.036, "y": 2.5},
      {"p": "E", "s": "Mix/Sim", "x": 1.043, "y": 2.4},
      {"p": "E", "s": "Mix/Sim", "x": 1.0486, "y": 1.4},
      {"p": "E", "s": "Mix/Sim", "x": 1.0556, "y": 0.15},
      {"p": "E", "s": "Mix/Sim", "x": 1.0846, "y": 0.0}
    ]
  },
  "data": {"name": "curves"},
  "columns": 2,
  "bounds": "flush",
  "spacing": {"row": 72, "column": 53},
  "resolve": {"scale": {"x": "independent", "y": "independent", "color": "shared"}},
  "concat": [
    {
      "width": 462,
      "height": 149,
      "layer": [
        {
          "transform": [{"filter": "datum.p == 'A'"}],
          "mark": {"type": "line", "strokeWidth": 1.8, "interpolate": "monotone"},
          "encoding": {
            "x": {
              "field": "x", "type": "quantitative",
              "scale": {"domain": [0.894, 1.206], "nice": false, "zero": false},
              "axis": {
                "title": "Mean ratio",
                "values": [0.9, 0.95, 1.0, 1.05, 1.1, 1.15, 1.2],
                "labelExpr": "abs(datum.value*10-round(datum.value*10)) > 0.01 ? '' : format(datum.value, '.1f')",
                "gridWidth": {"condition": {"test": "abs(datum.value*10-round(datum.value*10)) > 0.01", "value": 0.6}, "value": 1.1},
                "tickOpacity": {"condition": {"test": "abs(datum.value*10-round(datum.value*10)) > 0.01", "value": 0}, "value": 1}
              }
            },
            "y": {
              "field": "y", "type": "quantitative",
              "scale": {"domain": [-1.18, 24.7], "nice": false, "zero": false},
              "axis": {
                "title": "density",
                "values": [0, 2.5, 5, 7.5, 10, 12.5, 15, 17.5, 20, 22.5],
                "labelExpr": "datum.value % 5 != 0 ? '' : datum.label",
                "gridWidth": {"condition": {"test": "datum.value % 5 != 0", "value": 0.6}, "value": 1.1},
                "tickOpacity": {"condition": {"test": "datum.value % 5 != 0", "value": 0}, "value": 1}
              }
            },
            "color": {
              "field": "s", "type": "nominal",
              "scale": {"domain": ["Geo/Sim", "Pref/Sim", "Mix/Sim"], "range": ["#a30e00", "#0000ff", "#2db862"]},
              "legend": {"title": "Legend", "orient": "none", "legendX": 659, "legendY": 426}
            }
          }
        },
        {
          "data": {"values": [{}]},
          "mark": {"type": "rule", "color": "#000000", "strokeWidth": 1},
          "encoding": {"x": {"datum": 1}}
        },
        {
          "data": {"name": "panels"},
          "transform": [{"filter": "datum.p == 'A'"}],
          "mark": {"type": "text", "fontSize": 30, "fontWeight": "bold", "color": "#000000", "align": "center", "baseline": "alphabetic", "dx": -23, "dy": 0},
          "encoding": {"x": {"datum": 0.894}, "y": {"datum": 24.7}, "text": {"field": "letter"}}
        },
        {
          "data": {"name": "panels"},
          "transform": [{"filter": "datum.p == 'A'"}],
          "mark": {"type": "text", "fontSize": 21, "fontWeight": "bold", "color": "#000000", "align": "left", "baseline": "alphabetic", "dx": 1, "dy": -10},
          "encoding": {"x": {"datum": 0.894}, "y": {"datum": 24.7}, "text": {"field": "title"}}
        }
      ]
    },
    {
      "width": 462,
      "height": 149,
      "layer": [
        {
          "transform": [{"filter": "datum.p == 'B'"}],
          "mark": {"type": "line", "strokeWidth": 1.8, "interpolate": "monotone"},
          "encoding": {
            "x": {
              "field": "x", "type": "quantitative",
              "scale": {"domain": [0.913, 1.204], "nice": false, "zero": false},
              "axis": {
                "title": "Mean ratio",
                "values": [0.95, 1.0, 1.05, 1.1, 1.15, 1.2],
                "labelExpr": "abs(datum.value*10-round(datum.value*10)) > 0.01 ? '' : format(datum.value, '.1f')",
                "gridWidth": {"condition": {"test": "abs(datum.value*10-round(datum.value*10)) > 0.01", "value": 0.6}, "value": 1.1},
                "tickOpacity": {"condition": {"test": "abs(datum.value*10-round(datum.value*10)) > 0.01", "value": 0}, "value": 1}
              }
            },
            "y": {
              "field": "y", "type": "quantitative",
              "scale": {"domain": [-1.0, 20.9], "nice": false, "zero": false},
              "axis": {
                "title": "density",
                "values": [0, 2.5, 5, 7.5, 10, 12.5, 15, 17.5, 20],
                "labelExpr": "datum.value % 5 != 0 ? '' : datum.label",
                "gridWidth": {"condition": {"test": "datum.value % 5 != 0", "value": 0.6}, "value": 1.1},
                "tickOpacity": {"condition": {"test": "datum.value % 5 != 0", "value": 0}, "value": 1}
              }
            },
            "color": {
              "field": "s", "type": "nominal",
              "scale": {"domain": ["Geo/Sim", "Pref/Sim", "Mix/Sim"], "range": ["#a30e00", "#0000ff", "#2db862"]},
              "legend": {"title": "Legend", "orient": "none", "legendX": 659, "legendY": 426}
            }
          }
        },
        {
          "data": {"values": [{}]},
          "mark": {"type": "rule", "color": "#000000", "strokeWidth": 1},
          "encoding": {"x": {"datum": 1}}
        },
        {
          "data": {"name": "panels"},
          "transform": [{"filter": "datum.p == 'B'"}],
          "mark": {"type": "text", "fontSize": 30, "fontWeight": "bold", "color": "#000000", "align": "center", "baseline": "alphabetic", "dx": -25, "dy": -4},
          "encoding": {"x": {"datum": 0.913}, "y": {"datum": 20.9}, "text": {"field": "letter"}}
        },
        {
          "data": {"name": "panels"},
          "transform": [{"filter": "datum.p == 'B'"}],
          "mark": {"type": "text", "fontSize": 21, "fontWeight": "bold", "color": "#000000", "align": "left", "baseline": "alphabetic", "dx": 2, "dy": -10},
          "encoding": {"x": {"datum": 0.913}, "y": {"datum": 20.9}, "text": {"field": "title"}}
        }
      ]
    },
    {
      "width": 462,
      "height": 150,
      "layer": [
        {
          "transform": [{"filter": "datum.p == 'C'"}],
          "mark": {"type": "line", "strokeWidth": 1.8, "interpolate": "monotone"},
          "encoding": {
            "x": {
              "field": "x", "type": "quantitative",
              "scale": {"domain": [0.890, 1.157], "nice": false, "zero": false},
              "axis": {
                "title": "Mean ratio",
                "values": [0.9, 0.925, 0.95, 0.975, 1.0, 1.025, 1.05, 1.075, 1.1, 1.125, 1.15],
                "labelExpr": "abs(datum.value*20-round(datum.value*20)) > 0.01 ? '' : format(datum.value, '.2f')",
                "gridWidth": {"condition": {"test": "abs(datum.value*20-round(datum.value*20)) > 0.01", "value": 0.6}, "value": 1.1},
                "tickOpacity": {"condition": {"test": "abs(datum.value*20-round(datum.value*20)) > 0.01", "value": 0}, "value": 1}
              }
            },
            "y": {
              "field": "y", "type": "quantitative",
              "scale": {"domain": [-1.3, 27.3], "nice": false, "zero": false},
              "axis": {
                "title": "density",
                "values": [0, 5, 10, 15, 20, 25],
                "labelExpr": "datum.value % 10 != 0 ? '' : datum.label",
                "gridWidth": {"condition": {"test": "datum.value % 10 != 0", "value": 0.6}, "value": 1.1},
                "tickOpacity": {"condition": {"test": "datum.value % 10 != 0", "value": 0}, "value": 1}
              }
            },
            "color": {
              "field": "s", "type": "nominal",
              "scale": {"domain": ["Geo/Sim", "Pref/Sim", "Mix/Sim"], "range": ["#a30e00", "#0000ff", "#2db862"]},
              "legend": {"title": "Legend", "orient": "none", "legendX": 659, "legendY": 426}
            }
          }
        },
        {
          "data": {"values": [{}]},
          "mark": {"type": "rule", "color": "#000000", "strokeWidth": 1},
          "encoding": {"x": {"datum": 1}}
        },
        {
          "data": {"name": "panels"},
          "transform": [{"filter": "datum.p == 'C'"}],
          "mark": {"type": "text", "fontSize": 30, "fontWeight": "bold", "color": "#000000", "align": "center", "baseline": "alphabetic", "dx": -24, "dy": 1},
          "encoding": {"x": {"datum": 0.890}, "y": {"datum": 27.3}, "text": {"field": "letter"}}
        },
        {
          "data": {"name": "panels"},
          "transform": [{"filter": "datum.p == 'C'"}],
          "mark": {"type": "text", "fontSize": 21, "fontWeight": "bold", "color": "#000000", "align": "left", "baseline": "alphabetic", "dx": 1, "dy": -10},
          "encoding": {"x": {"datum": 0.890}, "y": {"datum": 27.3}, "text": {"field": "title"}}
        }
      ]
    },
    {
      "width": 462,
      "height": 150,
      "layer": [
        {
          "transform": [{"filter": "datum.p == 'D'"}],
          "mark": {"type": "line", "strokeWidth": 1.8, "interpolate": "monotone"},
          "encoding": {
            "x": {
              "field": "x", "type": "quantitative",
              "scale": {"domain": [0.935, 1.148], "nice": false, "zero": false},
              "axis": {
                "title": "Mean ratio",
                "values": [0.95, 0.975, 1.0, 1.025, 1.05, 1.075, 1.1, 1.125],
                "labelExpr": "abs(datum.value*20-round(datum.value*20)) > 0.01 ? '' : format(datum.value, '.2f')",
                "gridWidth": {"condition": {"test": "abs(datum.value*20-round(datum.value*20)) > 0.01", "value": 0.6}, "value": 1.1},
                "tickOpacity": {"condition": {"test": "abs(datum.value*20-round(datum.value*20)) > 0.01", "value": 0}, "value": 1}
              }
            },
            "y": {
              "field": "y", "type": "quantitative",
              "scale": {"domain": [-1.25, 26.15], "nice": false, "zero": false},
              "axis": {
                "title": "density",
                "values": [0, 2.5, 5, 7.5, 10, 12.5, 15, 17.5, 20, 22.5, 25],
                "labelExpr": "datum.value % 5 != 0 ? '' : datum.label",
                "gridWidth": {"condition": {"test": "datum.value % 5 != 0", "value": 0.6}, "value": 1.1},
                "tickOpacity": {"condition": {"test": "datum.value % 5 != 0", "value": 0}, "value": 1}
              }
            },
            "color": {
              "field": "s", "type": "nominal",
              "scale": {"domain": ["Geo/Sim", "Pref/Sim", "Mix/Sim"], "range": ["#a30e00", "#0000ff", "#2db862"]},
              "legend": {"title": "Legend", "orient": "none", "legendX": 659, "legendY": 426}
            }
          }
        },
        {
          "data": {"values": [{}]},
          "mark": {"type": "rule", "color": "#000000", "strokeWidth": 1},
          "encoding": {"x": {"datum": 1}}
        },
        {
          "data": {"name": "panels"},
          "transform": [{"filter": "datum.p == 'D'"}],
          "mark": {"type": "text", "fontSize": 30, "fontWeight": "bold", "color": "#000000", "align": "center", "baseline": "alphabetic", "dx": -24, "dy": -1},
          "encoding": {"x": {"datum": 0.935}, "y": {"datum": 26.15}, "text": {"field": "letter"}}
        },
        {
          "data": {"name": "panels"},
          "transform": [{"filter": "datum.p == 'D'"}],
          "mark": {"type": "text", "fontSize": 21, "fontWeight": "bold", "color": "#000000", "align": "left", "baseline": "alphabetic", "dx": 2, "dy": -10},
          "encoding": {"x": {"datum": 0.935}, "y": {"datum": 26.15}, "text": {"field": "title"}}
        }
      ]
    },
    {
      "width": 462,
      "height": 149,
      "layer": [
        {
          "transform": [{"filter": "datum.p == 'E'"}],
          "mark": {"type": "line", "strokeWidth": 1.8, "interpolate": "monotone"},
          "encoding": {
            "x": {
              "field": "x", "type": "quantitative",
              "scale": {"domain": [0.9002, 1.0934], "nice": false, "zero": false},
              "axis": {
                "title": "Mean ratio",
                "values": [0.925, 0.95, 0.975, 1.0, 1.025, 1.05, 1.075],
                "labelExpr": "abs(datum.value*20-round(datum.value*20)) > 0.01 ? '' : format(datum.value, '.2f')",
                "gridWidth": {"condition": {"test": "abs(datum.value*20-round(datum.value*20)) > 0.01", "value": 0.6}, "value": 1.1},
                "tickOpacity": {"condition": {"test": "abs(datum.value*20-round(datum.value*20)) > 0.01", "value": 0}, "value": 1}
              }
            },
            "y": {
              "field": "y", "type": "quantitative",
              "scale": {"domain": [-1.51, 31.7], "nice": false, "zero": false},
              "axis": {
                "title": "density",
                "values": [0, 5, 10, 15, 20, 25, 30],
                "labelExpr": "datum.value % 10 != 0 ? '' : datum.label",
                "gridWidth": {"condition": {"test": "datum.value % 10 != 0", "value": 0.6}, "value": 1.1},
                "tickOpacity": {"condition": {"test": "datum.value % 10 != 0", "value": 0}, "value": 1}
              }
            },
            "color": {
              "field": "s", "type": "nominal",
              "scale": {"domain": ["Geo/Sim", "Pref/Sim", "Mix/Sim"], "range": ["#a30e00", "#0000ff", "#2db862"]},
              "legend": {"title": "Legend", "orient": "none", "legendX": 659, "legendY": 426}
            }
          }
        },
        {
          "data": {"values": [{}]},
          "mark": {"type": "rule", "color": "#000000", "strokeWidth": 1},
          "encoding": {"x": {"datum": 1}}
        },
        {
          "data": {"name": "panels"},
          "transform": [{"filter": "datum.p == 'E'"}],
          "mark": {"type": "text", "fontSize": 30, "fontWeight": "bold", "color": "#000000", "align": "center", "baseline": "alphabetic", "dx": -26, "dy": -1},
          "encoding": {"x": {"datum": 0.9002}, "y": {"datum": 31.7}, "text": {"field": "letter"}}
        },
        {
          "data": {"name": "panels"},
          "transform": [{"filter": "datum.p == 'E'"}],
          "mark": {"type": "text", "fontSize": 21, "fontWeight": "bold", "color": "#000000", "align": "left", "baseline": "alphabetic", "dx": 1, "dy": -10},
          "encoding": {"x": {"datum": 0.9002}, "y": {"datum": 31.7}, "text": {"field": "title"}}
        }
      ]
    }
  ]
}
